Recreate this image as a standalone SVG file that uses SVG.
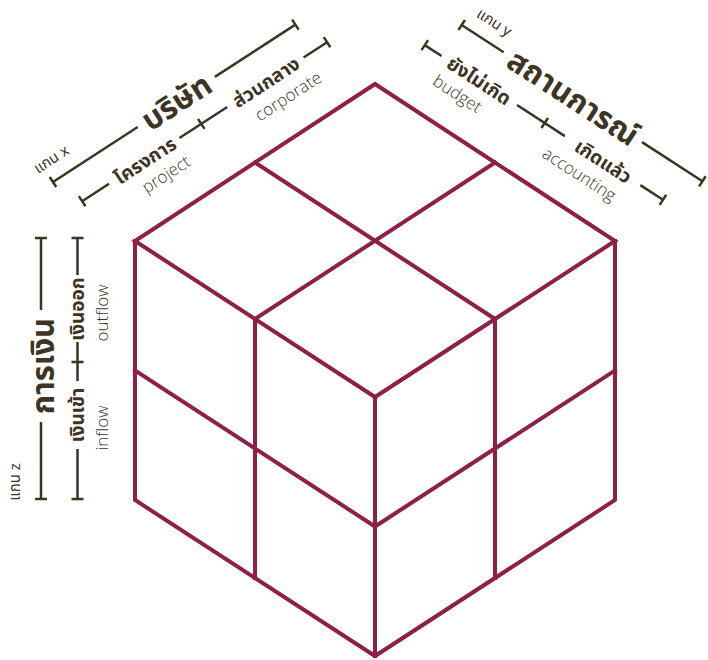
<svg xmlns="http://www.w3.org/2000/svg" width="708" height="660" viewBox="0 0 708 660">
  <style>
    .cube { fill: none; stroke: #8E1F46; stroke-width: 4; stroke-linejoin: miter; stroke-linecap: square; }
    .ax { fill: none; stroke: #3D3423; stroke-width: 2.5; }
    .big { font-family: "Noto Sans Thai", "Kanit", "Prompt", "Noto Sans", sans-serif; font-weight: 700; font-size: 31px; fill: #3D3423; text-anchor: middle; }
    .mid { font-family: "Noto Sans Thai", "Kanit", "Prompt", "Noto Sans", sans-serif; font-weight: 700; font-size: 19px; fill: #3D3423; text-anchor: middle; }
    .en { font-family: "Open Sans", "Noto Sans", sans-serif; font-weight: 300; font-size: 17px; fill: #40382A; text-anchor: middle; }
    .ax-name { font-family: "Noto Sans Thai", "Noto Sans", sans-serif; font-size: 15px; fill: #3D3423; text-anchor: middle; }
  </style>
  <rect width="708" height="660" fill="#FFFFFF"/>
  <g id="cube">
    <path class="cube" d="M375,84 L135,241 L375,397 L615,241 Z"/>
    <path class="cube" d="M255,162.5 L495,319 M495,162.5 L255,319"/>
    <path class="cube" d="M135,241 V500 L375,656 L615,500 V241"/>
    <path class="cube" d="M375,397 V656"/>
    <path class="cube" d="M255,319 V578 M495,319 V578"/>
    <path class="cube" d="M135,370.5 L375,526.5 L615,370.5"/>
  </g>
  <g id="axis-x" transform="translate(53,182) rotate(-33)">
    <path class="ax" d="M0,0 H101 M193,0 H289 M0,-6 V6 M289,-6 V6"/>
    <text class="ax-name" x="11" y="-15">แกน x</text>
    <text class="big" x="147" y="11">บริษัท</text>
    <path class="ax" d="M14,32 H46 M130,32 H187 M306,32 H278 M14,26 V38 M156,26 V38 M306,26 V38"/>
    <text class="mid" x="89" y="39">โครงการ</text>
    <text class="mid" x="233" y="39">ส่วนกลาง</text>
    <text class="en" x="99" y="61">project</text>
    <text class="en" x="244" y="62">corporate</text>
  </g>
  <g id="axis-y" transform="translate(461.7,25) rotate(33)">
    <path class="ax" d="M0,0 H50 M215,0 H287 M0,-6 V6 M287,-6 V6"/>
    <text class="ax-name" x="26" y="-15">แกน y</text>
    <text class="big" x="133" y="11">สถานการณ์</text>
    <path class="ax" d="M-20,37 H0 M90,37 H147 M237,37 H264 M-20,31 V43 M123,31 V43 M264,31 V43"/>
    <text class="mid" x="45" y="44">ยังไม่เกิด</text>
    <text class="mid" x="193" y="44">เกิดแล้ว</text>
    <text class="en" x="34" y="66">budget</text>
    <text class="en" x="180" y="67">accounting</text>
  </g>
  <g id="axis-z" transform="translate(41,499) rotate(-90)">
    <path class="ax" d="M0,0 H77 M189,0 H261 M0,-6 V6 M261,-6 V6"/>
    <text class="ax-name" x="17" y="-21">แกน z</text>
    <text class="big" x="133" y="13">การเงิน</text>
    <path class="ax" d="M0,36.5 H50 M118,36.5 H157 M224,36.5 H261 M0,30.5 V42.5 M137,30.5 V42.5 M261,30.5 V42.5"/>
    <text class="mid" x="84" y="43">เงินเข้า</text>
    <text class="mid" x="190" y="43">เงินออก</text>
    <text class="en" x="71" y="67">inflow</text>
    <text class="en" x="186" y="67">outflow</text>
  </g>
</svg>
